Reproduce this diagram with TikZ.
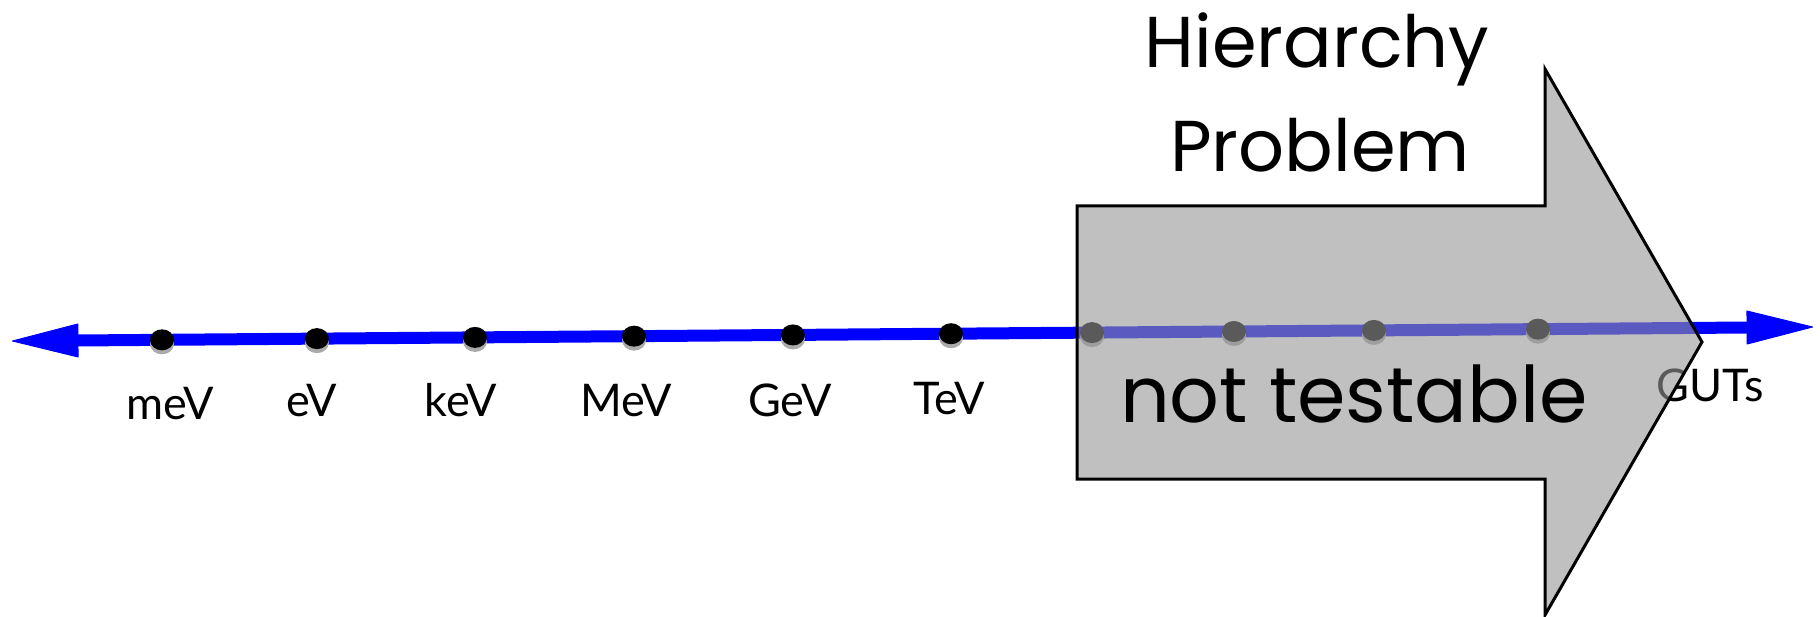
\documentclass[tikz,border=0pt]{standalone}
\usepackage{fontspec}
\usetikzlibrary{arrows.meta,shapes.geometric,shadows}
\newfontfamily\labfont{Lato}
\newfontfamily\handfont{Poppins}
\definecolor{axisblue}{RGB}{0,0,255}
\definecolor{arrowgray}{RGB}{150,150,150}
\definecolor{shadowgray}{RGB}{170,170,170}
\tikzset{
  axistip/.tip={Triangle[length=68pt 0 0,width=34pt 0 0,line width=1pt,round]},
  axisline/.style={line width=12pt, draw=axisblue, axistip-axistip},
  dotnode/.style={ellipse, fill=black, minimum width=24pt, minimum height=21pt, inner sep=0pt,
     drop shadow={shadow xshift=0pt, shadow yshift=-4pt, fill=shadowgray, opacity=1}},
  scalelabel/.style={anchor=base, inner sep=0pt, font=\labfont\fontsize{45}{54}\selectfont},
  bigarrow/.style={fill=arrowgray, fill opacity=0.6, draw=black, draw opacity=1, line width=3pt, line join=miter},
  handtext/.style={anchor=base, inner sep=0pt, text=black},
}
\begin{document}
\begin{tikzpicture}[x=1pt,y=-1pt]
\useasboundingbox (0,0) rectangle (1820,617);
% axis
\coordinate (L) at (12,341);
\coordinate (R) at (1813,327);
\draw[axisline] (L) -- (R);
% dots on the axis
\path (L) -- (R)
  node[dotnode, pos=0.0833] (d1) {}
  node[dotnode, pos=0.1693] (d2) {}
  node[dotnode, pos=0.2571] (d3) {}
  node[dotnode, pos=0.3454] (d4) {}
  node[dotnode, pos=0.4336] (d5) {}
  node[dotnode, pos=0.5214] (d6) {}
  node[dotnode, pos=0.5997] (d7) {}
  node[dotnode, pos=0.6785] (d8) {}
  node[dotnode, pos=0.7562] (d9) {}
  node[dotnode, pos=0.8473] (d10) {};
% labels
\node[scalelabel] (lmeV) at (170,419) {meV};
\node[scalelabel] (leV)  at (312,416) {eV};
\node[scalelabel] (lkeV) at (461,416) {keV};
\node[scalelabel] (lMeV) at (626,416) {MeV};
\node[scalelabel] (lGeV) at (790,416) {GeV};
\node[scalelabel] (lTeV) at (949,414) {TeV};
\node[scalelabel] (lGUT) at (1710,401) {GUTs};
% big arrow
\coordinate (a1) at (1077,206);
\coordinate (a2) at (1545,206);
\coordinate (a3) at (1545,69);
\coordinate (a4) at (1702,342);
\coordinate (a5) at (1545,615);
\coordinate (a6) at (1545,479);
\coordinate (a7) at (1077,479);
\draw[bigarrow] (a1) -- (a2) -- (a3) -- (a4) -- (a5) -- (a6) -- (a7) -- cycle;
% texts
\node[handtext, font=\handfont\fontsize{72}{80}\selectfont] (hier) at (1317,68) {Hierarchy};
\node[handtext, font=\handfont\fontsize{72}{80}\selectfont] (prob) at (1320,172) {Problem};
\node[handtext, font=\handfont\fontsize{78}{90}\selectfont] (nott) at (1354,422) {not testable};
\end{tikzpicture}
\end{document}
